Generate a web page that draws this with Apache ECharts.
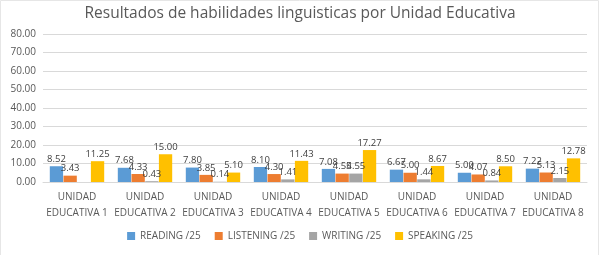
<!DOCTYPE html>
<html>
<head>
<meta charset="utf-8">
<script src="https://cdn.jsdelivr.net/npm/echarts@6/dist/echarts.min.js"></script>
<style>
  html, body { margin: 0; padding: 0; background: #fff; }
  #chart { width: 600px; height: 255px; }
</style>
</head>
<body>
<div id="chart"></div>
<script>
// values
const categories = [
  'UNIDAD\nEDUCATIVA 1', 'UNIDAD\nEDUCATIVA 2', 'UNIDAD\nEDUCATIVA 3', 'UNIDAD\nEDUCATIVA 4',
  'UNIDAD\nEDUCATIVA 5', 'UNIDAD\nEDUCATIVA 6', 'UNIDAD\nEDUCATIVA 7', 'UNIDAD\nEDUCATIVA 8'
];
const reading = [8.52, 7.68, 7.80, 8.10, 7.08, 6.67, 5.00, 7.22];
const listening = [3.43, 4.33, 3.85, 4.30, 4.55, 5.00, 4.07, 5.13];
const writing = [null, 0.43, 0.14, 1.41, 4.55, 1.44, 0.84, 2.15];
const speaking = [11.25, 15.00, 5.10, 11.43, 17.27, 8.67, 8.50, 12.78];

const font = 'Open Sans, Noto Sans, sans-serif';
const txt = '#595959';

function bar(name, data, color) {
  return {
    name, type: 'bar', data,
    itemStyle: { color },
    label: {
      show: true, position: 'top', distance: 2,
      color: '#404040', fontSize: 9.5, fontFamily: font,
      formatter: p => p.value == null ? '' : p.value.toFixed(2)
    }
  };
}

const chart = echarts.init(document.getElementById('chart'), null, { renderer: 'canvas' });
chart.setOption({
  animation: false,
  title: {
    text: 'Resultados de habilidades linguisticas por Unidad Educativa',
    left: 'center', top: 1,
    textStyle: { color: txt, fontSize: 15.5, fontWeight: 'normal', fontFamily: font }
  },
  graphic: [{
    type: 'rect', shape: { x: 0.5, y: 0.5, width: 598, height: 260 },
    style: { fill: 'none', stroke: '#e6e6e6', lineWidth: 1 }, silent: true
  }],
  legend: {
    bottom: 9, left: 'center',
    itemWidth: 8, itemHeight: 8, itemGap: 14,
    icon: 'rect',
    textStyle: { color: txt, fontSize: 10, fontFamily: font }
  },
  grid: { left: 43, right: 13, top: 34, bottom: 73, containLabel: false },
  xAxis: {
    type: 'category', data: categories,
    axisLine: { lineStyle: { color: '#d9d9d9' } },
    axisTick: { show: false },
    axisLabel: { color: txt, fontSize: 10, fontFamily: font, lineHeight: 16, margin: 7, interval: 0 }
  },
  yAxis: {
    type: 'value', min: 0, max: 80, interval: 10,
    axisLabel: { color: txt, fontSize: 10, fontFamily: font, formatter: v => v.toFixed(2), margin: 7 },
    splitLine: { lineStyle: { color: '#d9d9d9' } },
    axisLine: { show: false }, axisTick: { show: false }
  },
  series: [
    Object.assign(bar('READING /25', reading, '#5B9BD5'), { barGap: '3%', barCategoryGap: '20%' }),
    bar('LISTENING /25', listening, '#ED7D31'),
    bar('WRITING /25', writing, '#A5A5A5'),
    bar('SPEAKING /25', speaking, '#FFC000')
  ]
});
</script>
</body>
</html>
